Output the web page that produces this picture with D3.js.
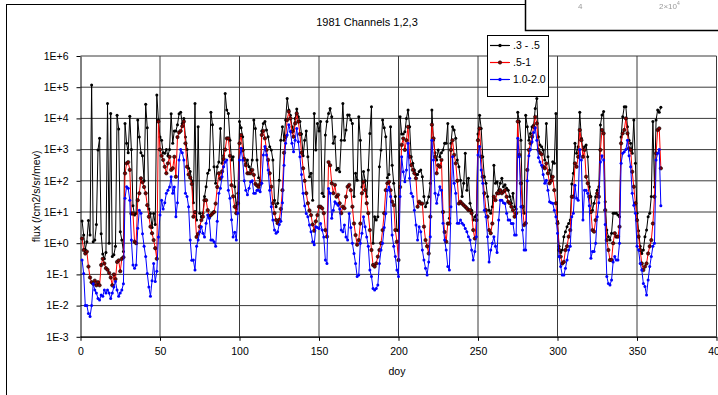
<!DOCTYPE html>
<html>
<head>
<meta charset="utf-8">
<script src="https://cdn.jsdelivr.net/npm/d3@7"></script>
<style>
  html, body { margin: 0; padding: 0; background: #fff; }
  svg { display: block; font-family: "Liberation Sans", Arial, sans-serif; }
</style>
</head>
<body>
<div id="chart"></div>
<script>
const title = '1981 Channels 1,2,3';
const xTitle = 'doy';
const yTitle = 'flux (/cm2/s/sr/mev)';
const seriesNames = ['.3 - .5', '.5-1', '1.0-2.0'];
const lineColors = ['#000000', '#ff0000', '#0000ff'];
const markerColors = ['#000000', '#800000', '#0000ff'];
const xTicks = [0, 50, 100, 150, 200, 250, 300, 350, 400];
const yTicks = [1e-3, 1e-2, 1e-1, 1e0, 1e1, 1e2, 1e3, 1e4, 1e5, 1e6];
const firstDay = 1;

// log10 of flux, one value per day
const logCh1 = [
  0.71,0.26,-0.2,0.05,0.73,0.26,5.07,0.05,0.1,0.6,
  2.99,3.36,0.3,-0.35,-0.5,-0.3,4.48,0.0,4.16,-0.43,
  -0.37,-0.1,4.1,3.66,0.37,0.1,-0.27,3.84,3.2,2.9,
  4.07,3.0,1.2,0.9,0.95,3.95,3.4,2.9,2.8,2.0,
  4.45,3.7,1.1,0.95,0.5,0.95,0.6,4.75,3.95,3.4,
  3.3,2.9,2.88,3.0,2.8,3.0,4.15,3.2,3.6,3.6,
  3.8,4.15,4.2,3.84,4.0,3.4,3.0,2.4,2.3,2.0,
  1.3,4.48,0.74,3.73,0.96,0.85,0.96,1.5,1.81,2.24,
  2.35,4.2,3.8,2.45,1.92,2.45,2.6,3.68,2.56,2.8,
  4.8,4.27,4.16,3.3,2.67,2.77,1.81,1.1,1.6,3.9,
  3.7,3.41,2.67,2.56,2.67,2.45,2.35,2.67,3.95,3.68,
  2.67,2.1,2.0,3.6,3.84,3.9,3.63,3.41,3.09,2.99,
  2.67,1.38,1.17,1.28,2.02,3.3,3.73,3.3,3.95,4.64,
  4.27,4.1,3.73,3.6,4.0,4.3,4.05,3.9,3.5,2.8,
  3.3,3.6,2.77,2.13,2.24,1.38,4.16,2.99,3.84,3.6,
  3.9,1.6,1.5,3.47,3.9,4.16,4.32,4.05,3.2,3.41,
  2.35,2.4,2.29,3.3,4.48,3.3,3.63,4.11,4.11,3.95,
  3.84,1.5,2.24,2.02,4.05,3.3,1.8,2.3,2.0,1.5,
  2.35,3.52,4.37,0.0,0.85,0.74,0.85,2.45,2.99,3.95,
  3.7,3.41,2.1,2.2,3.73,2.5,1.92,1.5,0.42,0.4,
  4.05,3.5,3.5,3.57,4.0,4.27,3.73,2.77,2.56,2.35,
  2.2,2.2,2.3,2.35,2.13,1.5,1.17,1.3,1.49,1.92,
  4.27,3.3,2.9,2.67,2.99,2.77,2.9,2.99,3.2,3.2,
  3.84,0.8,3.2,3.73,3.63,3.36,2.67,2.45,2.02,1.5,
  1.92,2.88,1.7,2.08,1.28,1.06,0.74,0.85,0.9,3.5,
  4.1,3.68,2.77,2.13,1.92,1.5,1.06,0.96,1.17,2.5,
  1.92,1.97,1.7,1.92,2.08,1.81,1.87,1.76,1.7,1.5,
  1.28,1.6,1.17,1.1,4.2,3.9,3.3,1.17,0.96,4.1,
  3.73,3.3,3.52,3.73,3.79,4.32,4.64,3.41,3.15,3.09,
  2.99,2.67,3.84,2.77,2.35,2.02,2.61,2.56,4.16,0.7,
  -0.1,-0.3,-0.22,0.21,0.37,0.53,0.63,0.74,1.9,2.24,
  3.2,2.88,3.09,4.2,3.36,3.0,3.09,3.15,2.77,1.81,
  1.5,1.06,1.28,1.49,1.7,1.81,3.79,4.11,4.22,1.33,
  0.42,0.21,0.1,0.32,0.96,0.96,0.96,0.9,0.85,3.4,
  4.05,4.37,4.37,3.73,3.3,3.2,2.88,3.95,2.56,0.96,
  0.4,-0.1,-0.33,-0.22,0.21,0.42,0.85,0.96,1.5,3.9,
  1.8,3.95,4.27,4.2,4.36
];

const logCh2 = [
  0.15,-0.22,-0.33,-0.27,-0.75,-1.1,-1.25,-1.3,-1.2,-1.35,
  -1.25,-1.35,-0.7,-0.5,-0.65,-0.8,-0.85,-0.95,-1.1,-1.35,
  -1.0,-1.15,-0.6,-0.55,-0.9,-0.5,-0.45,2.24,2.56,2.6,
  2.35,0.95,0.95,0.05,0.0,1.38,1.6,2.08,1.95,1.8,
  1.6,1.22,0.85,0.53,0.32,0.1,-0.16,-0.5,3.9,3.0,
  2.8,2.67,2.45,2.24,2.56,2.77,2.35,2.4,2.77,2.13,
  3.4,3.55,3.6,3.75,3.9,3.2,2.45,2.2,2.1,1.9,
  0.85,1.0,0.2,0.3,0.53,0.74,0.85,1.38,1.38,1.06,
  0.85,0.9,0.95,1.0,1.27,1.8,2.24,2.07,2.3,2.7,
  3.0,3.36,3.36,2.8,1.86,1.5,1.17,0.96,1.28,3.2,
  3.47,2.98,2.7,2.5,2.24,2.24,2.24,2.35,2.19,1.9,
  1.85,1.8,1.9,3.47,3.6,3.36,2.99,2.67,2.24,1.81,
  1.28,0.96,0.74,0.64,0.75,1.1,1.7,2.9,3.41,3.95,
  4.22,4.0,3.58,3.41,3.84,4.16,3.9,3.5,2.9,2.4,
  2.0,1.6,1.28,1.05,0.9,0.6,0.4,0.7,0.9,1.17,
  1.17,1.12,0.96,0.42,0.21,2.6,2.5,1.92,1.6,1.87,
  1.49,1.55,1.28,0.96,1.17,1.12,1.49,1.81,1.87,1.7,
  1.17,0.63,0.26,-0.05,0.1,0.63,1.6,1.97,1.7,1.28,
  0.96,0.42,-0.22,-0.7,-0.75,-0.65,-0.43,-0.22,0.0,0.42,
  0.96,1.7,1.92,1.97,1.7,1.33,1.22,0.42,0.05,-0.54,
  1.8,3.15,3.36,2.99,3.3,3.73,2.77,2.5,2.35,2.24,
  2.08,1.17,1.33,1.27,1.27,0.53,0.1,-0.1,-0.33,0.85,
  3.8,3.36,2.77,2.24,2.5,2.45,2.67,1.0,0.36,0.05,
  0.63,0.63,2.99,3.3,2.83,2.56,2.0,1.27,1.33,1.27,
  1.22,1.17,1.12,1.06,1.06,0.96,0.42,0.15,0.74,3.3,
  3.68,2.77,2.13,1.6,1.06,0.85,0.42,0.32,0.63,1.49,
  1.38,1.6,1.6,1.7,1.6,1.65,1.7,1.49,1.33,1.28,
  1.17,1.06,0.85,0.96,3.9,2.83,1.92,1.17,0.58,0.64,
  2.35,2.99,3.2,3.41,3.73,4.05,3.84,2.99,2.9,2.85,
  2.45,2.4,2.56,2.24,1.92,2.0,2.13,1.7,1.28,0.64,
  -0.22,-0.43,-0.65,-0.6,-0.22,-0.1,0.21,0.42,1.49,1.49,
  2.56,2.45,2.77,3.63,3.3,2.77,2.99,2.13,1.92,1.49,
  1.0,0.42,0.37,0.74,1.6,1.49,2.99,3.63,3.52,1.06,
  0.1,-0.22,-0.54,-0.54,0.0,0.32,0.21,0.21,0.53,3.2,
  3.52,3.63,4.0,3.52,3.04,2.99,2.29,1.81,1.28,0.74,
  0.21,-0.22,-0.65,-0.86,-0.75,-0.65,-0.33,-0.1,0.1,0.63,
  1.49,2.88,3.63,3.68,2.4
];

const logCh3 = [
  -0.54,-0.97,-2.0,-2.0,-2.25,-2.35,-2.0,-1.3,-1.5,-1.6,
  -1.77,-1.82,-1.66,-1.7,-1.5,-1.6,-1.5,-1.6,-1.77,-1.6,
  -1.4,-1.23,-1.5,-1.7,-1.6,-1.5,-1.3,1.44,1.81,1.76,
  1.38,0.1,-0.7,-0.8,-0.7,0.48,1.06,0.96,0.3,-0.1,
  -0.43,-0.97,-1.4,-1.7,-1.2,-0.65,-1.23,-0.9,0.2,0.9,
  1.38,1.1,1.3,1.6,1.7,1.8,2.13,1.6,1.8,0.85,
  1.3,2.67,3.0,2.9,2.67,1.6,1.5,1.17,0.1,-0.55,
  -0.54,-0.86,-0.1,0.1,0.37,0.53,0.32,0.2,0.64,0.9,
  0.8,0.1,0.1,0.05,-0.1,0.7,1.6,1.76,2.13,2.45,
  2.6,2.67,1.7,1.44,0.75,0.2,0.35,0.1,0.96,2.67,
  3.04,2.67,2.0,1.7,1.55,1.76,1.97,2.0,1.6,1.6,
  1.7,1.7,1.65,1.92,2.83,3.1,2.83,2.35,1.7,1.17,
  0.74,0.42,0.32,0.37,0.6,0.7,1.3,2.5,3.2,3.47,
  3.8,3.58,3.2,2.93,3.3,3.68,3.25,2.77,2.2,1.6,
  1.2,0.95,0.85,0.58,0.37,0.05,-0.05,0.53,0.5,0.47,
  0.63,0.42,0.2,-0.54,-0.65,1.75,1.6,0.8,1.06,1.33,
  1.27,1.22,1.1,0.42,0.37,0.58,0.2,0.1,0.95,0.5,
  0.0,-0.33,-0.65,-1.07,-1.02,0.0,0.32,0.85,0.53,0.2,
  -0.1,-0.86,-1.07,-1.45,-1.5,-1.45,-1.34,-0.65,-0.22,0.0,
  0.5,0.95,1.7,1.8,1.5,0.26,-0.1,-0.43,-0.86,-1.07,
  1.5,2.77,2.29,1.97,2.35,3.2,2.08,1.6,1.5,1.06,
  0.58,0.1,0.53,0.37,-0.22,-0.54,-0.8,-1.02,-0.6,0.21,
  3.3,2.67,1.6,1.28,1.55,1.81,1.7,0.64,0.1,-0.22,
  -0.75,-0.86,1.17,2.77,1.92,1.6,0.64,0.64,0.74,0.64,
  0.58,0.47,0.37,0.21,0.1,-0.22,-0.54,-0.27,0.21,2.83,
  3.1,2.35,1.92,1.06,0.85,0.21,-0.6,-0.22,0.0,0.21,
  -0.1,-0.3,0.74,1.38,1.38,1.3,1.27,0.96,0.74,0.74,
  0.63,0.63,0.26,0.26,3.36,2.77,1.17,0.42,-0.22,-0.22,
  2.0,2.8,3.0,3.25,3.55,3.7,3.3,2.75,2.6,2.5,
  2.2,1.92,2.02,1.7,1.33,1.3,1.28,1.06,0.85,0.32,
  -0.43,-0.75,-1.02,-1.02,-0.8,-0.54,-0.22,-0.1,0.85,0.96,
  1.86,1.44,1.38,3.0,2.67,0.74,1.7,1.7,1.6,1.2,
  -0.48,-0.27,-0.27,0.0,0.85,1.3,2.6,2.8,2.67,0.6,
  -1.07,-1.29,-1.34,-1.18,-0.6,-0.43,-0.54,-0.54,0.0,2.56,
  2.88,2.93,3.0,3.3,2.8,2.45,1.6,1.22,0.96,-0.1,
  -0.22,-0.65,-0.86,-1.29,-1.39,-1.66,-1.18,-0.75,-0.43,-0.1,
  0.0,2.67,2.88,3.0,1.2
];

const width = 718, height = 395;
const plot = { left: 80.5, right: 716.5, top: 56, bottom: 336.8 };

const series = [logCh1, logCh2, logCh3].map((vals, i) => ({
  name: seriesNames[i],
  line: lineColors[i],
  marker: markerColors[i],
  outlined: i === 1,
  values: vals.map((v, j) => ({ day: firstDay + j, flux: Math.pow(10, v) }))
}));

const svg = d3.select('#chart').append('svg')
  .attr('width', width)
  .attr('height', height);

svg.append('rect').attr('width', width).attr('height', height).attr('fill', '#fff');

// chart area border (runs off the right and bottom of the window)
svg.append('rect')
  .attr('x', 6.5).attr('y', 4.5)
  .attr('width', 800).attr('height', 500)
  .attr('fill', 'none').attr('stroke', '#000').attr('stroke-width', 1);

const x = d3.scaleLinear().domain([0, 400]).range([plot.left, plot.right]);
const y = d3.scaleLog().domain([1e-3, 1e6]).range([plot.bottom, plot.top]);

const fmtExp = d => {
  const e = Math.round(Math.log10(d));
  return '1E' + (e < 0 ? '-' : '+') + Math.abs(e);
};

// gridlines
const grid = svg.append('g').attr('stroke', '#3a3a3a').attr('stroke-width', 1);
grid.selectAll('.hgrid').data(yTicks).join('line')
  .attr('class', 'hgrid')
  .attr('x1', plot.left).attr('x2', plot.right)
  .attr('y1', d => y(d)).attr('y2', d => y(d));
grid.selectAll('.vgrid').data(xTicks.slice(1)).join('line')
  .attr('class', 'vgrid')
  .attr('x1', d => x(d)).attr('x2', d => x(d))
  .attr('y1', plot.top).attr('y2', plot.bottom);

// axes
const yAxis = svg.append('g')
  .attr('transform', `translate(${plot.left},0)`)
  .call(d3.axisLeft(y).tickValues(yTicks).tickFormat(fmtExp).tickSize(4).tickPadding(8).tickSizeOuter(0));
const xAxis = svg.append('g')
  .attr('transform', `translate(0,${plot.bottom})`)
  .call(d3.axisBottom(x).tickValues(xTicks).tickFormat(d3.format('d')).tickSize(4).tickPadding(7).tickSizeOuter(0));

[yAxis, xAxis].forEach(a => {
  a.attr('font-family', null).attr('font-size', null);
  a.selectAll('text').attr('font-size', '10.5px').attr('fill', '#000');
  a.selectAll('line, path').attr('stroke', '#000');
});

// series, drawn in order so blue ends up on top
const line = d3.line().x(d => x(d.day)).y(d => y(d.flux));
const seriesG = svg.append('g');
series.forEach(s => {
  const g = seriesG.append('g');
  g.append('path')
    .datum(s.values)
    .attr('fill', 'none')
    .attr('stroke', s.line)
    .attr('stroke-width', 1)
    .attr('d', line);
  g.selectAll('circle').data(s.values).join('circle')
    .attr('cx', d => x(d.day))
    .attr('cy', d => y(d.flux))
    .attr('r', s.outlined ? 1.7 : 1.5)
    .attr('fill', s.marker)
    .attr('stroke', s.outlined ? '#000' : 'none')
    .attr('stroke-width', 0.6);
});

// titles
svg.append('text')
  .attr('x', 367).attr('y', 26)
  .attr('text-anchor', 'middle')
  .attr('font-size', '11px')
  .text(title);
svg.append('text')
  .attr('x', 397).attr('y', 375)
  .attr('text-anchor', 'middle')
  .attr('font-size', '10.5px')
  .text(xTitle);
svg.append('text')
  .attr('transform', `translate(39.5,${(plot.top + plot.bottom) / 2}) rotate(-90)`)
  .attr('text-anchor', 'middle')
  .attr('font-size', '10.5px')
  .text(yTitle);

// legend
const legend = svg.append('g').attr('transform', 'translate(487,35)');
legend.append('rect')
  .attr('x', 0.5).attr('y', 0.5)
  .attr('width', 61).attr('height', 61)
  .attr('fill', '#fff').attr('stroke', '#000');
const rows = legend.selectAll('.row').data(series).join('g')
  .attr('class', 'row')
  .attr('transform', (d, i) => `translate(0,${10.5 + i * 17})`);
rows.append('line')
  .attr('x1', 3).attr('x2', 23)
  .attr('stroke', d => d.line).attr('stroke-width', 1.2);
rows.append('circle')
  .attr('cx', 13).attr('r', 1.7)
  .attr('fill', d => d.marker)
  .attr('stroke', d => d.outlined ? '#000' : 'none')
  .attr('stroke-width', 0.6);
rows.append('text')
  .attr('x', 26).attr('y', 3.8)
  .attr('font-size', '10.5px')
  .text(d => d.name);

// another window overlapping the top right corner
const defs = svg.append('defs');
defs.append('filter').attr('id', 'blur')
  .append('feGaussianBlur').attr('stdDeviation', 0.7);
svg.append('rect')
  .attr('x', 525.5).attr('y', -3)
  .attr('width', 200).attr('height', 33.5)
  .attr('fill', '#fff').attr('stroke', '#000').attr('stroke-width', 1.5);
const ghost = svg.append('g').attr('fill', '#9a9a9a').attr('font-size', '8px').attr('filter', 'url(#blur)');
ghost.append('text').attr('x', 578).attr('y', 9).text('4');
ghost.append('text').attr('x', 659).attr('y', 9).text('2×10');
ghost.append('text').attr('x', 677).attr('y', 5).attr('font-size', '5px').text('4');
</script>
</body>
</html>
